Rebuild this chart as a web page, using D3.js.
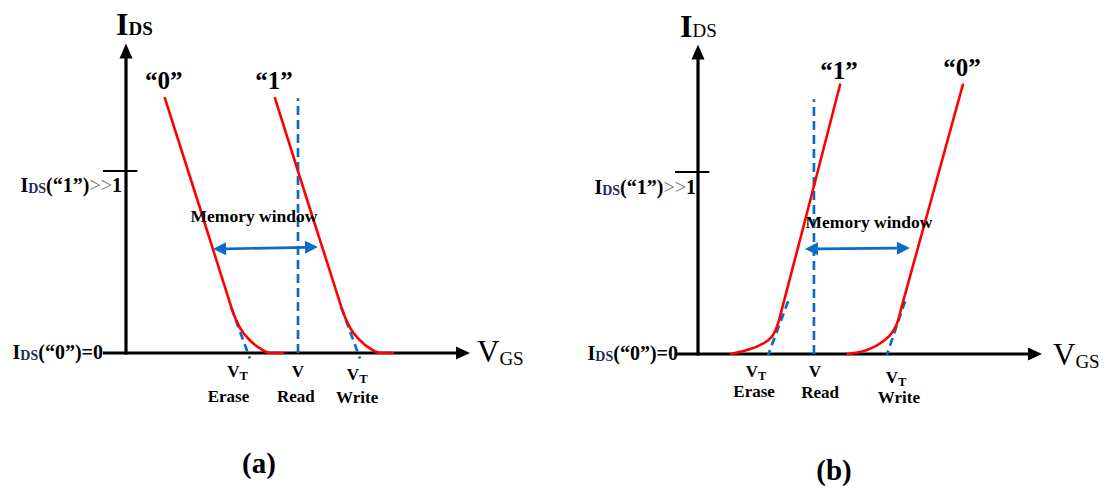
<!DOCTYPE html>
<html>
<head>
<meta charset="utf-8">
<script src="https://cdn.jsdelivr.net/npm/d3@7"></script>
<style>
  html, body { margin: 0; padding: 0; background: #fff; }
  svg text { font-family: "Liberation Serif", "Times New Roman", serif; }
</style>
</head>
<body>
<svg id="chart" width="1112" height="488"></svg>
<script>
// I_DS–V_GS transfer characteristics of a memory cell, two programming schemes.
// V_GS in arbitrary units along the axis, I_DS normalised so that I_DS("1") = 1.

const panelKeys = ["a", "b"];
const panelTitles = ["(a)", "(b)"];

// Transfer curves [V_GS, I_DS]
const curveA0 = [[1.13, 1.40], [2.11, 0.82], [2.98, 0.30], [3.08, 0.24], [3.31, 0.14], [3.60, 0.07], [3.90, 0.025], [4.19, 0], [4.56, 0]];
const curveA1 = [[4.33, 1.40], [5.30, 0.82], [6.18, 0.30], [6.28, 0.24], [6.51, 0.14], [6.80, 0.07], [7.09, 0.025], [7.38, 0], [7.76, 0]];
const curveB1 = [[0.96, 0], [1.42, 0.022], [1.80, 0.049], [2.18, 0.104], [2.34, 0.176], [2.43, 0.24], [3.23, 0.82], [4.13, 1.48]];
const curveB0 = [[4.36, 0], [4.91, 0.022], [5.35, 0.066], [5.67, 0.126], [5.81, 0.181], [5.90, 0.245], [6.74, 0.82], [7.70, 1.48]];

// Linear extrapolations down to the threshold voltages
const tangentsA = [[[3.06, 0.25], [3.60, -0.03]], [[6.26, 0.25], [6.80, -0.03]]];
const tangentsB = [[[2.62, 0.29], [2.04, -0.005]], [[6.02, 0.29], [5.49, -0.005]]];

// Read voltage and the height of its marker
const readVoltage = { a: 5.0, b: 3.37 };
const readTop = 1.40;

// Memory window arrows and their captions
const windowA = [[2.53, 0.571], [5.58, 0.582]];
const windowB = [[3.11, 0.577], [6.16, 0.582]];
const windowCaption = { a: [3.72, 0.72], b: [4.97, 0.692] };

// Current levels marked on the I_DS axis
const idsTickValue = 1;
const idsLevelLabels = ["(\u201C1\u201D)", "(\u201C0\u201D)"];

// Curve labels (state stored in the cell)
const stateLabelsA = ["\u201C0\u201D", "\u201C1\u201D"];
const stateLabelsB = ["\u201C1\u201D", "\u201C0\u201D"];

// Gate-voltage markers under the V_GS axis
const gateLabelsA = [
  { sub: "T", name: "Erase", at: 3.24, nameAt: 2.98 },
  { sub: "",  name: "Read",  at: 5.00, nameAt: 4.94 },
  { sub: "T", name: "Write", at: 6.72, nameAt: 6.72 }
];
const gateLabelsB = [
  { sub: "T", name: "Erase", at: 1.69, nameAt: 1.63 },
  { sub: "",  name: "Read",  at: 3.40, nameAt: 3.55 },
  { sub: "T", name: "Write", at: 5.76, nameAt: 5.84 }
];

const axisTop = 1.70;     // I_DS at the arrow tip
const axisLeft = -0.67;   // V_GS where the horizontal axis starts
const axisRight = 10;     // V_GS at the arrow tip

const RED = "#ff0000";
const BLUE = "#0a6cc4";
const NAVY = "#1c2a5c";
const GREY = "#7a7a7a";

const layout = {
  a: { origin: [126, 353], titleDx: -10, titleY: 35, dsWeight: "bold", vgsDx: 7, vgsY: 362,
       rows: [[24, 49], [24, 49], [27, 50]], letterX: 259, letterY: 473, stateDy: [9, 9],
       levelEnd: [122, 103], levelY: [192, 359] },
  b: { origin: [698, 354], titleDx: -18, titleY: 37, dsWeight: "normal", vgsDx: 11, vgsY: 365,
       rows: [[23, 43], [23, 44], [29, 49]], letterX: 834, letterY: 480, stateDy: [6, 9],
       levelEnd: [696, 678], levelY: [194, 360] }
};

const panelData = {
  a: { curves: [curveA0, curveA1], tangents: tangentsA, win: windowA, states: stateLabelsA, gates: gateLabelsA },
  b: { curves: [curveB1, curveB0], tangents: tangentsB, win: windowB, states: stateLabelsB, gates: gateLabelsB }
};

const svg = d3.select("#chart");
svg.append("rect").attr("width", 1112).attr("height", 488).attr("fill", "#fff");

function rich(g, xPos, yPos, anchor, parts) {
  const t = g.append("text").attr("x", xPos).attr("y", yPos).attr("text-anchor", anchor);
  parts.forEach(p => {
    t.append("tspan")
      .attr("font-size", p.size)
      .attr("font-weight", p.weight || "bold")
      .attr("fill", p.fill || "#000")
      .attr("dy", p.dy || 0)
      .text(p.t);
  });
  return t;
}

panelKeys.forEach((key, i) => {
  const L = layout[key];
  const D = panelData[key];
  const [ox, oy] = L.origin;
  const x = d3.scaleLinear().domain([0, 10]).range([ox, ox + 344]);
  const y = d3.scaleLinear().domain([0, 1]).range([oy, oy - 182]);
  const straight = d3.line().x(d => x(d[0])).y(d => y(d[1]));
  const smooth = d3.line().x(d => x(d[0])).y(d => y(d[1])).curve(d3.curveMonotoneX);
  const g = svg.append("g");

  // Axes with arrowheads
  g.append("line")
    .attr("x1", x(0)).attr("x2", x(0))
    .attr("y1", y(0) + 1.5).attr("y2", y(axisTop) + 12)
    .attr("stroke", "#000").attr("stroke-width", 3.2);
  g.append("path")
    .attr("d", `M${x(0)},${y(axisTop)} L${x(0) - 6.5},${y(axisTop) + 15} L${x(0) + 6.5},${y(axisTop) + 15} Z`)
    .attr("fill", "#000");
  g.append("line")
    .attr("x1", x(axisLeft)).attr("x2", x(axisRight) - 12)
    .attr("y1", y(0)).attr("y2", y(0))
    .attr("stroke", "#000").attr("stroke-width", 3.2);
  g.append("path")
    .attr("d", `M${x(axisRight)},${y(0)} L${x(axisRight) - 14},${y(0) - 6.5} L${x(axisRight) - 14},${y(0) + 6.5} Z`)
    .attr("fill", "#000");

  // I_DS("1") tick
  g.append("line")
    .attr("x1", x(axisLeft)).attr("x2", x(0.33))
    .attr("y1", y(idsTickValue)).attr("y2", y(idsTickValue))
    .attr("stroke", "#000").attr("stroke-width", 2);

  // Axis titles
  rich(g, x(0) + L.titleDx, L.titleY, "start", [
    { t: "I", size: 32 },
    { t: "DS", size: 19, weight: L.dsWeight }
  ]);
  rich(g, x(axisRight) + L.vgsDx, L.vgsY, "start", [
    { t: "V", size: 31, weight: "normal" },
    { t: "GS", size: 19, weight: "normal", dy: 3 }
  ]);

  // Current level labels
  rich(g, L.levelEnd[0], L.levelY[0], "end", [
    { t: "I", size: 20 },
    { t: "DS", size: 14, fill: NAVY, dy: 1 },
    { t: idsLevelLabels[0], size: 20, dy: -1 },
    { t: ">>", size: 20, weight: "normal", fill: GREY },
    { t: "1", size: 20 }
  ]);
  rich(g, L.levelEnd[1], L.levelY[1], "end", [
    { t: "I", size: 20 },
    { t: "DS", size: 14, fill: NAVY, dy: 1 },
    { t: idsLevelLabels[1], size: 20, dy: -1 },
    { t: "=0", size: 20 }
  ]);

  // Read-voltage marker
  g.append("line")
    .attr("x1", x(readVoltage[key])).attr("x2", x(readVoltage[key]))
    .attr("y1", y(0)).attr("y2", y(readTop))
    .attr("stroke", BLUE).attr("stroke-width", 2.7)
    .attr("stroke-dasharray", "9,5");

  // Threshold extrapolations
  D.tangents.forEach(tg => {
    g.append("path").attr("d", straight(tg))
      .attr("fill", "none").attr("stroke", BLUE).attr("stroke-width", 2.7)
      .attr("stroke-dasharray", "8,5");
  });

  // Transfer curves
  D.curves.forEach(c => {
    g.append("path").attr("d", smooth(c))
      .attr("fill", "none").attr("stroke", RED).attr("stroke-width", 2.6)
      .attr("stroke-linecap", "round");
  });

  // State labels above each curve
  D.curves.forEach((c, j) => {
    const top = c.reduce((a, b) => (b[1] > a[1] ? b : a));
    g.append("text")
      .attr("x", x(top[0]) - 1).attr("y", y(top[1]) - L.stateDy[j])
      .attr("text-anchor", "middle")
      .attr("font-size", 25).attr("font-weight", "bold")
      .text(D.states[j]);
  });

  // Memory window arrow
  const [p0, p1] = D.win;
  const ax0 = x(p0[0]), ay0 = y(p0[1]), ax1 = x(p1[0]), ay1 = y(p1[1]);
  const ang = Math.atan2(ay1 - ay0, ax1 - ax0);
  const head = 13, half = 6.5;
  g.append("line")
    .attr("x1", ax0 + head * Math.cos(ang)).attr("y1", ay0 + head * Math.sin(ang))
    .attr("x2", ax1 - head * Math.cos(ang)).attr("y2", ay1 - head * Math.sin(ang))
    .attr("stroke", BLUE).attr("stroke-width", 2.7);
  function arrowHead(tx, ty, dir) {
    const bx = tx - dir * head * Math.cos(ang), by = ty - dir * head * Math.sin(ang);
    const nx = -Math.sin(ang) * half, ny = Math.cos(ang) * half;
    g.append("path")
      .attr("d", `M${tx},${ty} L${bx + nx},${by + ny} L${bx - nx},${by - ny} Z`)
      .attr("fill", BLUE);
  }
  arrowHead(ax1, ay1, 1);
  arrowHead(ax0, ay0, -1);
  g.append("text")
    .attr("x", x(windowCaption[key][0])).attr("y", y(windowCaption[key][1]))
    .attr("text-anchor", "middle")
    .attr("font-size", 17.5).attr("font-weight", "bold")
    .text("Memory window");

  // Gate voltage markers
  D.gates.forEach((gl, j) => {
    const row = L.rows[j];
    const parts = [{ t: "V", size: 17 }];
    if (gl.sub) parts.push({ t: gl.sub, size: 12.5, dy: 2.5 });
    rich(g, x(gl.at), y(0) + row[0], "middle", parts);
    g.append("text")
      .attr("x", x(gl.nameAt)).attr("y", y(0) + row[1])
      .attr("text-anchor", "middle")
      .attr("font-size", 17).attr("font-weight", "bold")
      .text(gl.name);
  });

  // Panel letter
  svg.append("text")
    .attr("x", L.letterX).attr("y", L.letterY)
    .attr("text-anchor", "middle")
    .attr("font-size", 29).attr("font-weight", "bold")
    .text(panelTitles[i]);
});
</script>
</body>
</html>
